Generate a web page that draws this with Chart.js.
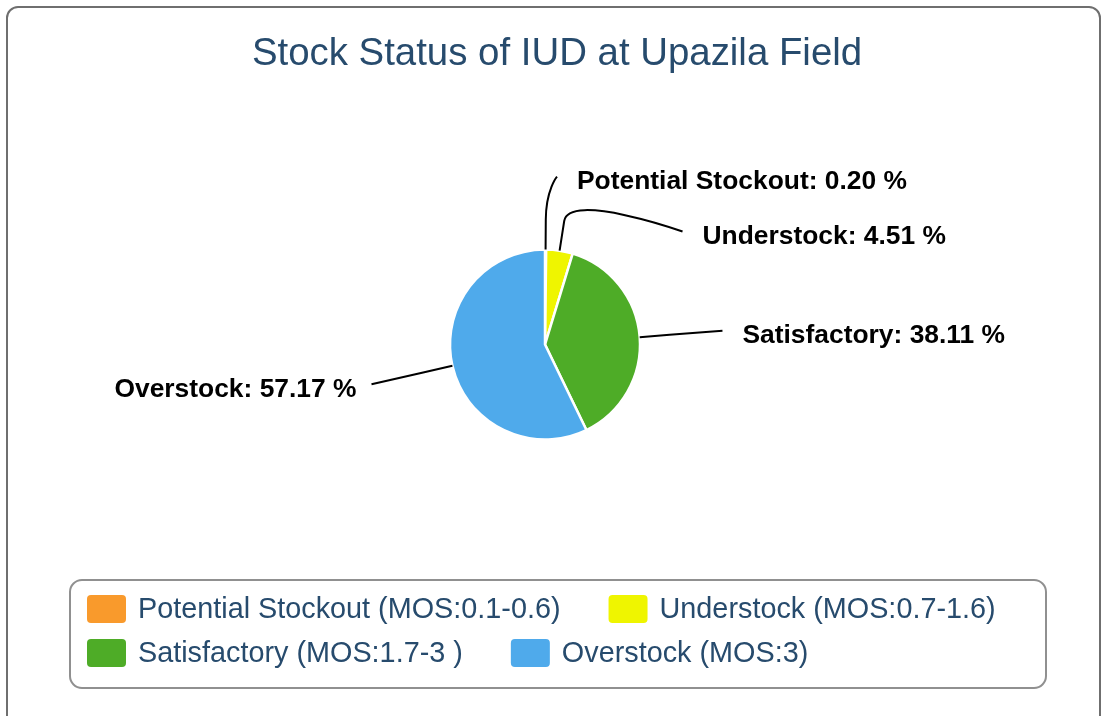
<!DOCTYPE html>
<html>
<head>
<meta charset="utf-8">
<title>Stock Status of IUD at Upazila Field</title>
<script src="https://cdn.jsdelivr.net/npm/chart.js@4.4.1/dist/chart.umd.min.js"></script>
<style>
  html, body { margin: 0; padding: 0; background: #fff; overflow: hidden; }
  #frame {
    position: absolute; left: 6px; top: 6px;
    width: 1091px; height: 740px;
    border: 2.5px solid #6f6f6f; border-radius: 12px;
  }
  #wrap { position: absolute; left: 0; top: 0; width: 1102px; height: 716px; }
</style>
</head>
<body>
<div id="frame"></div>
<div id="wrap"><canvas id="chart" width="1102" height="716"></canvas></div>
<script>
const categories = ['Potential Stockout', 'Understock', 'Satisfactory', 'Overstock'];
const legendLabels = ['Potential Stockout (MOS:0.1-0.6)', 'Understock (MOS:0.7-1.6)', 'Satisfactory (MOS:1.7-3 )', 'Overstock (MOS:3)'];
const shares = [0.20, 4.51, 38.11, 57.17];
const colors = ['#f99a2c', '#eff500', '#4eac27', '#4faaeb'];

const FONT = '"Liberation Sans", Arial, Helvetica, sans-serif';
const TEXT_BLUE = '#274b6d';

// move the pie a little left of the title centre
const shiftPie = {
  id: 'shiftPie',
  afterLayout(chart) {
    chart.chartArea.left -= 12;
    chart.chartArea.right -= 12;
  }
};

// data labels with soft connectors
const pieLabels = {
  id: 'pieLabels',
  afterDatasetsDraw(chart) {
    const ctx = chart.ctx;
    const arcs = chart.getDatasetMeta(0).data;
    const R = 178, slot = 55;
    const items = arcs.map((arc, i) => {
      const p = arc.getProps(['x', 'y', 'startAngle', 'endAngle', 'outerRadius'], true);
      const mid = (p.startAngle + p.endAngle) / 2;
      const side = Math.cos(mid) >= 0 ? 1 : -1;
      return {
        i, side, cx: p.x, cy: p.y, r: p.outerRadius,
        ex: p.x + Math.cos(mid) * p.outerRadius, ey: p.y + Math.sin(mid) * p.outerRadius,
        bx: p.x + Math.cos(mid) * (p.outerRadius + 30), by: p.y + Math.sin(mid) * (p.outerRadius + 30),
        natY: p.y + Math.sin(mid) * R
      };
    });
    [1, -1].forEach(side => {
      const list = items.filter(d => d.side === side).sort((a, b) => a.natY - b.natY);
      let prev = -Infinity;
      list.forEach((d, k) => {
        let y = Math.max(d.natY, prev + slot);
        if (k === 0) y = Math.max(y, d.cy - R + 10);
        d.ly = y;
        prev = y;
        const useY = (k === 0 || k === list.length - 1) ? d.natY : y;
        const dy = useY - d.cy;
        const off = Math.max(Math.sqrt(Math.max(R * R - dy * dy, 0)), 12);
        d.lx = d.cx + side * off;
      });
    });
    ctx.save();
    items.forEach(d => {
      ctx.beginPath();
      ctx.moveTo(d.lx, d.ly);
      ctx.bezierCurveTo(d.lx, d.ly, 2 * d.bx - d.ex, 2 * d.by - d.ey, d.bx, d.by);
      ctx.lineTo(d.ex, d.ey);
      ctx.strokeStyle = '#000';
      ctx.lineWidth = 2;
      ctx.stroke();
      ctx.font = 'bold 26.4px ' + FONT;
      ctx.fillStyle = '#000';
      ctx.textBaseline = 'middle';
      ctx.textAlign = d.side > 0 ? 'left' : 'right';
      const label = categories[d.i] + ': ' + shares[d.i].toFixed(2) + ' %';
      ctx.fillText(label, d.lx + (d.side > 0 ? 20 : -15), d.ly + 5);
    });
    ctx.restore();
  }
};

// boxed legend, two items per row
const boxLegend = {
  id: 'boxLegend',
  afterDraw(chart) {
    const ctx = chart.ctx;
    const box = { left: 70, top: 580, right: 1046, bottom: 688 };
    ctx.save();
    ctx.beginPath();
    ctx.roundRect(box.left, box.top, box.right - box.left, box.bottom - box.top, 12);
    ctx.strokeStyle = '#909090';
    ctx.lineWidth = 2;
    ctx.stroke();

    ctx.font = '28.8px ' + FONT;
    ctx.textBaseline = 'middle';
    ctx.textAlign = 'left';
    const startX = 87, maxX = 1032, rowH = 44, symW = 39, symH = 28, gap = 12, dist = 48;
    let x = startX, y = 609;
    chart.data.labels.forEach((lab, i) => {
      const w = symW + gap + ctx.measureText(lab).width;
      if (x > startX && x + w > maxX) { x = startX; y += rowH; }
      ctx.beginPath();
      ctx.roundRect(x, y - symH / 2, symW, symH, 4);
      ctx.fillStyle = chart.data.datasets[0].backgroundColor[i];
      ctx.fill();
      ctx.fillStyle = TEXT_BLUE;
      ctx.fillText(lab, x + symW + gap, y + 1);
      x += w + dist;
    });
    ctx.restore();
  }
};

new Chart(document.getElementById('chart'), {
  type: 'pie',
  data: {
    labels: legendLabels,
    datasets: [{
      data: shares,
      backgroundColor: colors,
      borderColor: '#ffffff',
      borderWidth: 2.5,
      radius: 95
    }]
  },
  options: {
    responsive: false,
    animation: false,
    layout: { padding: { left: 12, right: 0, top: 0, bottom: 114 } },
    plugins: {
      legend: { display: false },
      tooltip: { enabled: false },
      title: {
        display: true,
        text: 'Stock Status of IUD at Upazila Field',
        color: TEXT_BLUE,
        font: { family: FONT, size: 38.4, weight: 'normal' },
        padding: { top: 31, bottom: 10 }
      }
    }
  },
  plugins: [shiftPie, pieLabels, boxLegend]
});
</script>
</body>
</html>
